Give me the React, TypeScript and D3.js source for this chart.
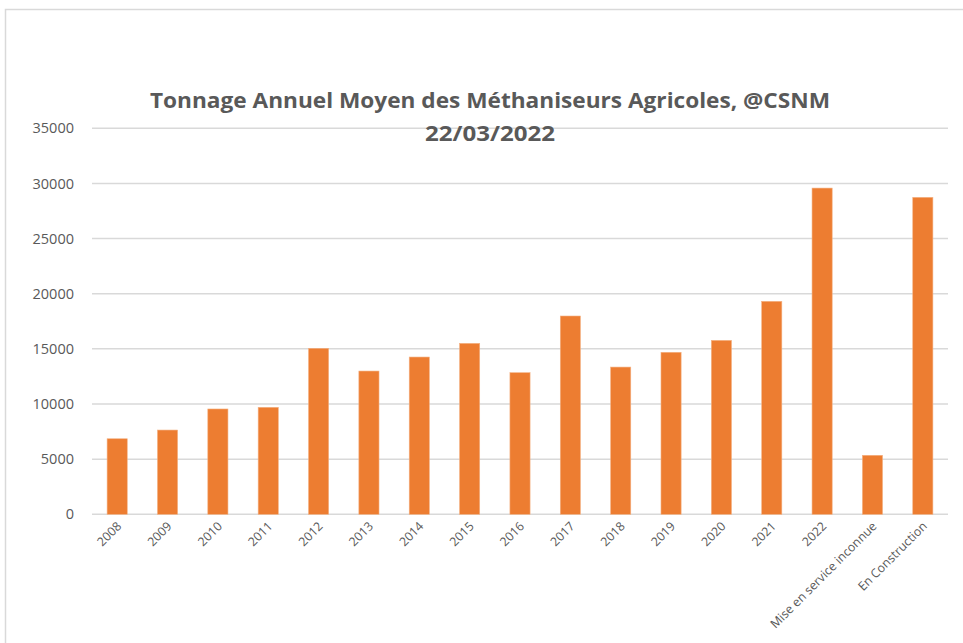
import React, { useEffect } from "react";
import * as d3 from "d3";

const categories = ["2008","2009","2010","2011","2012","2013","2014","2015","2016","2017","2018","2019","2020","2021","2022","Mise en service inconnue","En Construction"];
const values = [6850,7640,9550,9700,15050,12990,14260,15500,12840,17980,13350,14690,15770,19310,29580,5350,28740];
const yTicks = [0,5000,10000,15000,20000,25000,30000,35000];
const titleLines = ["Tonnage Annuel Moyen des Méthaniseurs Agricoles, @CSNM","22/03/2022"];

const W = 963, H = 643;
const left = 92, right = 948, top = 128.3, bottom = 514.3;

export default function App() {
  useEffect(() => { document.body.style.margin = "0"; }, []);
  const x = d3.scaleBand<string>().domain(categories).range([left, right]).paddingInner(0.6).paddingOuter(0.3);
  const y = d3.scaleLinear().domain([0, 35000]).range([bottom, top]);
  const font = "'Open Sans', 'Liberation Sans', sans-serif";
  return (
    <svg width={W} height={H} style={{ display: "block", background: "#fff" }}>
      <rect x={5.5} y={9.5} width={W + 10} height={H + 10} fill="#fff" stroke="#d9d9d9" strokeWidth={1.5} />
      {yTicks.map(t => (
        <g key={t}>
          <line x1={left} x2={right} y1={y(t)} y2={y(t)} stroke="#d9d9d9" strokeWidth={1.5} />
          <text x={74} y={y(t)} dy="0.35em" textAnchor="end" fontFamily={font} fontSize={14.5} fill="#595959">{t}</text>
        </g>
      ))}
      {categories.map((c, i) => (
        <rect key={c} x={x(c)} y={y(values[i])} width={x.bandwidth()} height={y(0) - y(values[i])} fill="#ed7d31" stroke="#f4b183" strokeWidth={0.6} />
      ))}
      {categories.map(c => {
        const cx = (x(c) as number) + x.bandwidth() / 2;
        return (
          <text key={c} transform={`translate(${cx + 5},${527}) rotate(-45)`} textAnchor="end" fontFamily={font} fontSize={12.3} fill="#595959">{c}</text>
        );
      })}
      <text x={490} y={108} textAnchor="middle" fontFamily={font} fontWeight="bold" fontSize={21} fill="#595959" textLength={680} lengthAdjust="spacingAndGlyphs">{titleLines[0]}</text>
      <text x={490} y={141} textAnchor="middle" fontFamily={font} fontWeight="bold" fontSize={21} fill="#595959" textLength={130} lengthAdjust="spacingAndGlyphs">{titleLines[1]}</text>
    </svg>
  );
}
